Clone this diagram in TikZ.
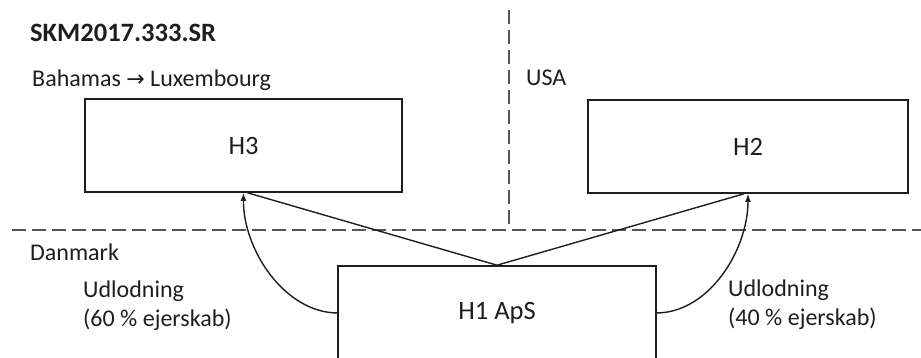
\documentclass[tikz,border=0pt]{standalone}
\usepackage{fontspec}
\setmainfont{Carlito}
\newfontfamily\symfont{DejaVu Sans}
\usetikzlibrary{arrows.meta}
\definecolor{ink}{HTML}{1E1E1E}
\definecolor{dash}{HTML}{555555}
\tikzset{
  box/.style={draw=ink, line width=1.6pt, fill=white, minimum width=#1, inner sep=0pt, font=\fontsize{26.5}{30}\selectfont, text=ink},
  lbl/.style={anchor=base west, inner sep=0pt, font=\fontsize{24}{29}\selectfont, text=ink, align=left},
  ttl/.style={anchor=base west, inner sep=0pt, font=\fontsize{26.5}{30}\selectfont\bfseries, text=ink},
  border/.style={draw=dash, line width=1.8pt, dash pattern=on 14pt off 6pt},
  conn/.style={draw=ink, line width=1.4pt},
  flow/.style={draw=ink, line width=1.4pt, -{Latex[length=8pt,width=6pt]}}
}
\begin{document}
\begin{tikzpicture}[x=1pt,y=-1pt]
\useasboundingbox (0,0) rectangle (921,358);
\clip (0,0) rectangle (921,358);
% borders
\coordinate (vtop) at (509,10);
\coordinate (vbot) at (509,230);
\coordinate (hl) at (12,230);
\coordinate (hr) at (921,230);
\draw[border] (vtop) -- (vbot);
\draw[border] (hl) -- (hr);
% boxes
\node[box=317pt, minimum height=93pt] (h3) at (243.5,145.5) {H3};
\node[box=320pt, minimum height=93pt] (h2) at (748,146.5) {H2};
\node[box=318pt, minimum height=98pt] (h1) at (497,315) {};
\node[inner sep=0pt, font=\fontsize{26.5}{30}\selectfont, text=ink] (h1t) at (497,313) {H1 ApS};
% labels
\node[ttl] (title) at (30,42) {SKM2017.333.SR};
\node[lbl] (bah) at (32,87) {Bahamas {\symfont\fontsize{22}{29}\selectfont →} Luxembourg};
\node[lbl] (usa) at (526,86) {USA};
\node[lbl] (dk) at (30,260) {Danmark};
\node[lbl] (ul) at (83,326) {Udlodning\\(60 \% ejerskab)};
\node[lbl] (ur) at (728,325) {Udlodning\\(40 \% ejerskab)};
% connectors
\draw[conn] (h1.north) -- ([xshift=4pt]h3.south);
\draw[conn] (h1.north) -- ([xshift=-4pt]h2.south);
\coordinate (l1) at (338,313);
\coordinate (r1) at (656,313);
\draw[flow] (l1) .. controls (285,313) and (243,250) .. (h3.south);
\draw[flow] (r1) .. controls (709,313) and (748,250) .. (h2.south);
\end{tikzpicture}
\end{document}
